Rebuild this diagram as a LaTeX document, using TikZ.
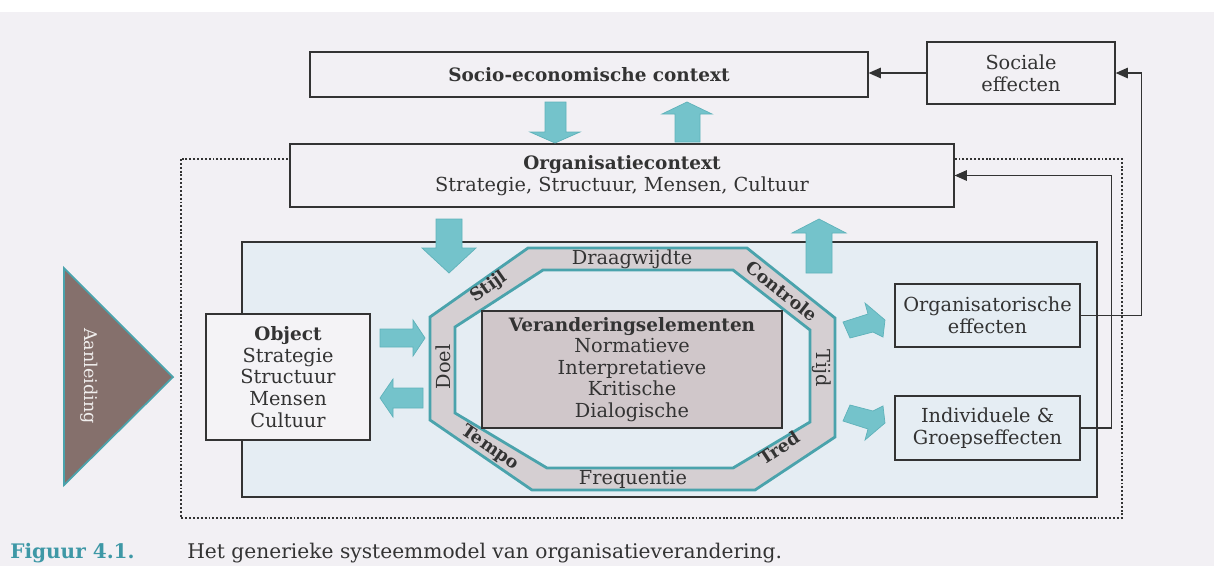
\documentclass[tikz,border=0pt]{standalone}
\usepackage{fontspec}
\setmainfont{DejaVu Serif}
\usetikzlibrary{arrows.meta}

\definecolor{paper}{HTML}{F2F0F4}
\definecolor{panel}{HTML}{E5EDF3}
\definecolor{objfill}{HTML}{F4F3F6}
\definecolor{bandedge}{HTML}{4AA3AC}
\definecolor{blockfill}{HTML}{74C3CB}
\definecolor{blockedge}{HTML}{5FB2BA}
\definecolor{band}{HTML}{D5CFD2}
\definecolor{core}{HTML}{D0C7CA}
\definecolor{ink}{HTML}{333333}
\definecolor{cause}{HTML}{85706C}
\definecolor{captionteal}{HTML}{3E98A6}

% regular text a touch larger than the bold headings
\newcommand\boxfont{\fontsize{11}{12.3}\selectfont}
\newcommand\headfont{\fontsize{10.5}{12.3}\selectfont\bfseries}

\tikzset{
  box/.style={draw=ink, line width=0.75pt, inner sep=0pt, align=center,
              text=ink, font=\boxfont},
  bandlbl/.style={inner sep=0pt, text=ink, font=\fontsize{11}{12}\selectfont},
  boldlbl/.style={inner sep=0pt, text=ink, font=\fontsize{10}{12}\selectfont\bfseries},
  blk/.style={fill=blockfill, draw=blockedge, line width=0.4pt},
  fb/.style={draw=ink, line width=0.75pt, -{Triangle[length=7pt,width=6pt]}},
  octedge/.style={draw=bandedge, line width=1.6pt, line join=miter},
}

\begin{document}
\begin{tikzpicture}[x=0.02cm,y=-0.02cm]
\useasboundingbox (0,0) rectangle (1214,566);
\fill[paper] (0,0) rectangle (1214,566);
\fill[white] (0,0) rectangle (1214,12);

% system boundary
\draw[ink, line width=1.1pt, dash pattern=on 1.1pt off 1.1pt] (181,159) rectangle (1122,518);

% trigger
\draw[fill=cause, draw=bandedge, line width=1pt] (64,268) -- (173,377) -- (64,485) -- cycle;
\node[rotate=-90, text=white!88!cause, font=\fontsize{10}{12}\selectfont, inner sep=0pt] (cause) at (89,376) {Aanleiding};

% change system panel
\node[draw=ink, fill=panel, line width=0.75pt, inner sep=0pt,
      minimum width=17.1cm, minimum height=5.1cm] (panel) at (669.5,369.5) {};

% octagonal ring of process dimensions
\draw[octedge, fill=band] (528,248) -- (747,248) -- (835,318) -- (835,437) -- (755,490)
      -- (532,490) -- (430,420) -- (430,317) -- cycle;
\draw[octedge, fill=panel] (543,270) -- (733,270) -- (810,330) -- (810,422) -- (733,468)
      -- (547,468) -- (455,413) -- (455,327) -- cycle;

\node[box, fill=core, minimum width=6cm, minimum height=2.34cm] (core) at (632,369.5)
  {{\headfont Veranderingselementen}\\Normatieve\\Interpretatieve\\Kritische\\Dialogische};

\node[bandlbl] (scope) at (632,259) {Draagwijdte};
\node[bandlbl] (freq)  at (633,479) {Frequentie};
\node[bandlbl, rotate=90]  (goal) at (443,367) {Doel};
\node[bandlbl, rotate=-90] (time) at (822,368) {Tijd};
\node[boldlbl, rotate=35]    (style) at (489,287) {Stijl};
\node[boldlbl, rotate=-38.5] (ctrl)  at (782,291) {Controle};
\node[boldlbl, rotate=-34.5] (pace)  at (490,448) {Tempo};
\node[boldlbl, rotate=33.5]  (tread) at (779,448) {Tred};

% context boxes
\node[box, fill=paper, minimum width=11.16cm, minimum height=0.9cm] (socio) at (589,74.5)
  {{\headfont Socio-economische context}};
\node[box, fill=paper, minimum width=3.76cm, minimum height=1.24cm] (sociale) at (1021,73)
  {Sociale\\effecten};
\node[box, fill=paper, minimum width=13.28cm, minimum height=1.26cm] (org) at (622,175.5)
  {{\headfont Organisatiecontext}\\Strategie, Structuur, Mensen, Cultuur};

% object and effects
\node[box, fill=objfill, minimum width=3.28cm, minimum height=2.52cm] (object) at (288,377)
  {{\headfont Object}\\Strategie\\Structuur\\Mensen\\Cultuur};
\node[box, fill=panel, minimum width=3.7cm, minimum height=1.26cm] (orgeff) at (987.5,315.5)
  {Organisatorische\\effecten};
\node[box, fill=panel, minimum width=3.7cm, minimum height=1.28cm] (indiv) at (987.5,428)
  {Individuele \&\\Groepseffecten};

% block arrows between the levels
\draw[blk] (545,102) -- (566,102) -- (566,132) -- (580,132) -- (555,143) -- (530,132) -- (545,132) -- cycle;
\draw[blk] (687,102) -- (712,114) -- (700,114) -- (700,142) -- (675,142) -- (675,114) -- (662,114) -- cycle;
\draw[blk] (436,219) -- (462,219) -- (462,248) -- (476,248) -- (449,273) -- (422,248) -- (436,248) -- cycle;
\draw[blk] (819,219) -- (846,233) -- (832,233) -- (832,273) -- (806,273) -- (806,233) -- (792,233) -- cycle;

% block arrows between object and the ring
\draw[blk] (380,329) -- (413,329) -- (413,320) -- (425,338) -- (413,356) -- (413,347) -- (380,347) -- cycle;
\draw[blk] (380,398) -- (393,379) -- (393,388) -- (423,388) -- (423,408) -- (393,408) -- (393,417) -- cycle;

% bent block arrows towards the effects
\draw[blk] (843,322) -- (868,314) -- (865,303) -- (885,320) -- (883,337) -- (873,332) -- (850,338) -- cycle;
\draw[blk] (843,421) -- (868,429) -- (865,440) -- (885,423) -- (883,406) -- (873,411) -- (850,405) -- cycle;

% feedback lines
\draw[fb] (sociale.west) -- (sociale.west -| socio.east);
\draw[fb] (orgeff.east) -- ++(61,0) |- (sociale.east);
\draw[fb] (indiv.east) -- ++(31,0) |- (org.east);

% caption
\node[anchor=base west, inner sep=0pt, text=captionteal, font=\fontsize{11.4}{13}\selectfont\bfseries] (fignum) at (10,558) {Figuur 4.1.};
\node[anchor=base west, inner sep=0pt, text=ink, font=\fontsize{11.5}{13}\selectfont] (figtext) at (187,558)
  {Het generieke systeemmodel van organisatieverandering.};
\end{tikzpicture}
\end{document}
